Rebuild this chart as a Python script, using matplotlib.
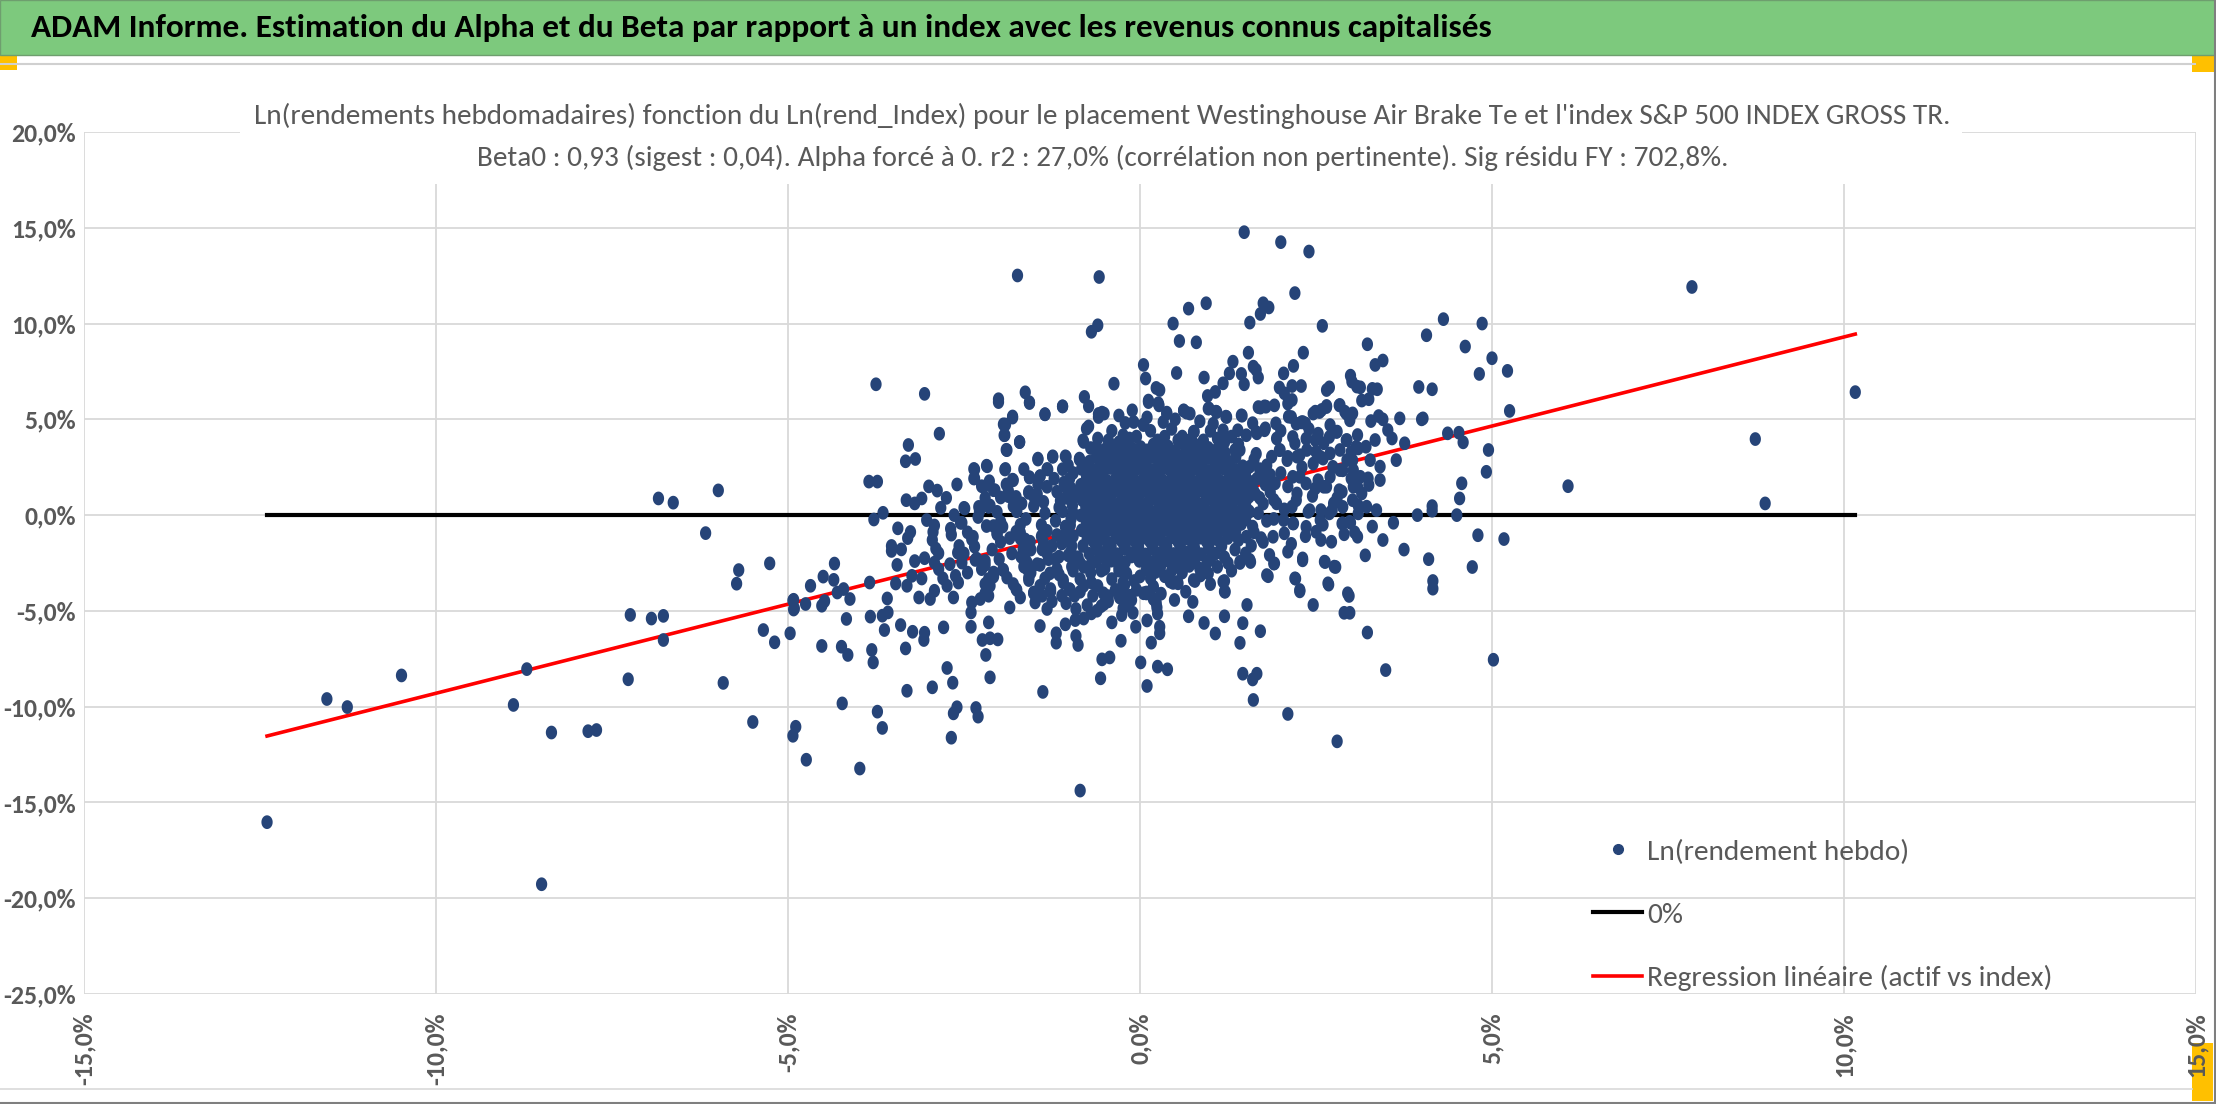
import numpy as np
import matplotlib
matplotlib.use('Agg')
import matplotlib.pyplot as plt
from matplotlib import font_manager
from matplotlib.lines import Line2D
from matplotlib.patches import Rectangle
from matplotlib.path import Path

# Ln weekly returns (%) of the asset vs Ln weekly returns (%) of the index
pts_left = [(-12.40, -16.03), (-11.55, -9.60), (-11.26, -10.02), (-10.49, -8.37), (-8.90, -9.91),
            (-8.71, -8.04), (-8.36, -11.35), (-8.50, -19.27), (-7.84, -11.28), (-7.72, -11.22),
            (-7.27, -8.57), (-7.24, -5.21), (-6.94, -5.40), (-6.77, -5.26), (-6.77, -6.52),
            (-6.84, 0.87), (-6.63, 0.65), (-6.17, -0.94), (-5.99, 1.29), (-5.92, -8.76),
            (-5.73, -3.58), (-5.70, -2.87), (-5.26, -2.52), (-5.50, -10.80), (-5.35, -6.00),
            (-5.19, -6.64), (-4.97, -6.17), (-4.93, -4.46), (-4.92, -4.93), (-4.89, -11.05),
            (-4.93, -11.52)]

pts_mid_upper = [(-1.74, 12.51), (-0.58, 12.43), (-0.60, 9.91), (-0.69, 9.57), (-3.75, 6.83),
                 (-3.06, 6.33), (-2.01, 6.05), (-1.63, 6.41), (-1.57, 5.89), (-1.10, 5.67),
                 (-0.79, 6.17), (-1.35, 5.27), (-0.37, 6.86), (-0.54, 5.35), (-0.59, 5.28),
                 (-2.85, 4.25), (-1.81, 5.15), (-1.91, 4.73), (-1.92, 4.18), (-1.90, 3.41),
                 (-1.71, 3.81), (-3.29, 3.66), (-3.33, 2.81), (-3.19, 2.93), (-3.85, 1.75),
                 (-3.73, 1.75), (-2.36, 2.41), (-2.35, 1.92), (-2.18, 2.58), (-1.91, 2.41),
                 (-1.81, 1.85), (-1.45, 2.95), (-1.24, 3.07), (-1.06, 3.07), (-0.86, 2.95),
                 (-0.81, 3.90), (-0.73, 4.63), (-1.57, 1.98), (-1.32, 2.41), (-1.42, 2.03),
                 (-2.88, 1.28), (-3.32, 0.78), (-3.20, 0.61), (-3.10, 0.87), (-2.83, 0.38),
                 (-2.50, 0.38), (-3.65, 0.12), (-3.78, -0.23), (-2.25, 1.51), (-2.14, 1.77),
                 (-2.06, 1.30), (-2.13, 0.50), (-2.28, 0.21), (-2.64, 0.00), (-2.55, -0.40),
                 (-1.58, 1.21), (-1.87, 0.99), (-1.77, 0.64)]

pts_mid_lower = [(-3.44, -0.69), (-3.26, -0.88), (-3.53, -1.61), (-3.53, -1.87), (-3.39, -1.79),
                 (-4.34, -2.53), (-4.50, -3.21), (-4.35, -3.38), (-4.68, -3.69), (-4.92, -4.42),
                 (-4.91, -4.87), (-4.75, -4.64), (-4.52, -4.73), (-4.48, -4.49), (-4.30, -4.04),
                 (-4.21, -3.86), (-4.12, -4.38), (-3.84, -3.52), (-4.17, -5.42), (-3.83, -5.30),
                 (-3.66, -5.25), (-3.58, -5.08), (-3.59, -4.35), (-3.47, -3.57), (-3.31, -3.69),
                 (-3.24, -3.17), (-3.10, -3.31), (-3.14, -4.30), (-3.06, -2.25), (-3.03, -0.26),
                 (-2.92, -0.54), (-2.94, -0.88), (-2.90, -1.75), (-2.86, -1.99), (-2.92, -2.48),
                 (-2.86, -2.82), (-2.69, -0.71), (-2.68, -1.02), (-2.57, -1.61), (-2.59, -1.96),
                 (-2.53, -2.48), (-2.70, -2.56), (-2.62, -3.17), (-2.58, -3.52), (-2.74, -3.69),
                 (-2.65, -4.30), (-2.92, -3.95), (-2.98, -4.38), (-2.39, -1.26), (-2.32, -2.27),
                 (-2.20, -2.39), (-2.25, -2.82), (-2.15, -3.34), (-2.08, -3.00), (-2.13, -3.69),
                 (-1.95, -2.86), (-1.89, -3.26), (-1.85, -4.82), (-1.76, -3.86), (-2.39, -4.56),
                 (-2.40, -5.08), (-2.27, -4.38), (-2.15, -4.21), (-2.20, -3.60), (-2.15, -5.60),
                 (-2.08, -0.57), (-2.03, -1.00), (-1.98, -1.40), (-1.70, -0.92), (-1.63, -1.27),
                 (-1.66, -1.79), (-1.63, -2.30), (-1.60, -2.82), (-1.58, -3.26), (-1.46, -2.56),
                 (-1.51, -4.04), (-1.49, -4.56), (-1.42, -3.69), (-1.39, -4.21), (-1.39, -1.79),
                 (-1.37, -1.44), (-1.27, -3.86), (-1.32, -4.90), (-1.18, -2.82), (-1.20, -2.30),
                 (-1.09, -3.52), (-1.11, -4.21), (-1.00, -3.86), (-0.93, -4.21), (-0.91, -4.90),
                 (-0.85, -3.34), (-0.80, -3.69), (-0.69, -3.52), (-0.67, -4.21), (-0.61, -4.99),
                 (-0.51, -4.64), (-0.40, -3.34), (-0.24, -3.52), (-0.24, -4.21), (-0.14, -4.21),
                 (0.09, -4.04), (0.24, -4.82), (0.19, -4.38)]

pts_low = [(-4.52, -6.83), (-4.24, -6.87), (-4.15, -7.30), (-3.81, -7.04), (-3.79, -7.69),
           (-3.63, -6.00), (-3.40, -5.74), (-3.23, -6.09), (-3.33, -6.96), (-3.07, -6.52),
           (-3.06, -6.14), (-2.79, -5.86), (-2.40, -5.83), (-2.24, -6.52), (-2.13, -6.43),
           (-2.02, -6.49), (-2.19, -7.30), (-2.13, -8.47), (-2.74, -7.98), (-2.66, -8.75),
           (-2.95, -8.99), (-3.31, -9.17), (-4.23, -9.83), (-3.73, -10.26), (-3.66, -11.11),
           (-2.65, -10.35), (-2.60, -10.03), (-2.33, -10.07), (-2.30, -10.52), (-2.68, -11.62),
           (-4.74, -12.77), (-3.98, -13.23), (-1.38, -9.23), (-0.85, -14.38), (-1.19, -6.17),
           (-1.19, -6.66), (-1.06, -5.70), (-0.92, -5.48), (-0.91, -6.31), (-0.88, -6.78),
           (-1.42, -5.79), (-0.56, -8.52), (-0.54, -7.53), (-0.43, -7.43), (-0.27, -6.56),
           (-0.06, -5.83), (0.01, -7.69), (0.10, -8.92), (0.16, -6.66), (0.25, -7.91),
           (0.39, -8.05), (0.28, -5.83), (0.28, -6.17), (-0.69, -5.13), (-0.55, -4.75),
           (-0.26, -5.22), (-0.24, -4.87), (0.09, -4.09), (-0.45, -4.23), (-0.29, -4.30),
           (-0.12, -4.43), (0.49, -4.43)]

pts_right_low = [(4.72, -2.71), (4.16, -3.44), (4.16, -3.84), (5.02, -7.55), (3.49, -8.09),
                 (2.80, -11.81), (2.10, -10.38), (3.23, -6.13), (2.97, -4.22), (2.90, -5.10),
                 (2.98, -5.10), (2.68, -3.63), (2.46, -4.69), (2.78, -2.71), (2.27, -3.98),
                 (2.21, -3.32), (1.82, -3.19), (1.71, -6.06), (1.52, -4.69), (1.46, -5.64),
                 (1.42, -6.67), (1.46, -8.28), (1.60, -8.58), (1.66, -8.28), (1.61, -9.65),
                 (1.20, -3.44), (1.21, -4.00), (1.20, -5.28), (1.07, -6.18), (0.91, -5.63),
                 (0.69, -5.28), (0.75, -4.53), (0.23, -4.58), (0.25, -5.14), (0.35, -3.19),
                 (0.47, -3.54), (0.53, -3.49), (0.78, -3.44), (0.86, -3.15), (0.22, -2.97),
                 (0.29, -2.71), (1.90, -2.53), (2.31, -2.36), (2.63, -2.45), (1.57, -2.45),
                 (1.42, -2.50), (-0.22, -3.66), (-0.08, -3.44)]

pts_upper_right = [(1.48, 14.77), (2.00, 14.25), (2.40, 13.76), (2.20, 11.59), (1.75, 11.06),
                   (1.83, 10.84), (1.71, 10.50), (1.56, 10.05), (0.69, 10.78), (0.94, 11.06),
                   (0.47, 10.00), (0.56, 9.09), (0.80, 9.02), (2.59, 9.88), (4.31, 10.23),
                   (4.86, 10.00), (4.07, 9.39), (4.62, 8.80), (5.00, 8.19), (5.22, 7.53),
                   (4.82, 7.37), (5.25, 5.44), (3.96, 6.69), (4.15, 6.57), (4.00, 5.00),
                   (4.02, 5.05), (4.37, 4.27), (4.53, 4.30), (4.59, 3.80), (4.95, 3.40),
                   (4.92, 2.26), (4.57, 1.66), (4.54, 0.87), (4.15, 0.47), (4.15, 0.23),
                   (3.94, 0.00), (4.50, 0.00), (3.69, 5.05), (3.76, 3.75), (3.64, 2.87),
                   (3.23, 8.92), (3.34, 7.84), (3.45, 8.07), (2.99, 7.28), (3.01, 6.97),
                   (3.08, 6.71), (3.13, 6.67), (3.30, 6.59), (3.37, 6.57), (3.15, 5.98),
                   (3.25, 6.05), (3.28, 4.91), (3.39, 5.17), (3.45, 5.00), (3.52, 4.44),
                   (3.58, 4.00), (3.34, 3.92), (3.41, 2.53), (3.41, 1.83), (3.36, 0.26),
                   (3.22, 0.44), (3.09, 4.18), (3.10, 3.48), (3.21, 3.57), (2.32, 8.48),
                   (2.18, 7.79), (2.04, 7.40), (1.98, 6.66), (2.05, 6.36), (2.16, 6.74),
                   (2.29, 6.74), (1.54, 8.48), (1.61, 7.75), (1.65, 7.58), (1.68, 7.18),
                   (1.44, 7.37), (1.48, 6.83), (1.32, 8.01), (1.27, 7.40), (1.18, 6.88),
                   (1.07, 6.43), (0.96, 6.22), (0.91, 7.18), (0.52, 7.42), (0.05, 7.84),
                   (0.08, 7.13), (0.23, 6.64), (0.28, 6.53), (0.12, 5.98), (0.26, 5.84),
                   (0.38, 5.35), (0.62, 5.45), (0.66, 5.35), (0.98, 5.57), (1.08, 5.40),
                   (1.22, 5.14), (1.45, 5.19), (1.71, 5.61), (1.79, 5.66), (2.16, 6.01),
                   (2.65, 6.53), (2.69, 6.67), (2.58, 5.49), (2.65, 5.70), (2.49, 5.40),
                   (2.84, 5.75), (2.91, 5.40), (3.02, 5.31), (2.80, 4.36), (2.94, 3.92),
                   (2.29, 4.84), (2.35, 4.79), (2.11, 5.14), (1.93, 4.79), (0.77, 4.36),
                   (0.76, 3.75), (0.05, 4.70)]

pts_mid_right = [(1.66, 4.27), (1.78, 4.53), (1.94, 4.00), (1.99, 3.40), (1.87, 3.05),
                 (2.09, 2.87), (2.20, 3.75), (2.23, 3.05), (2.37, 3.40), (2.49, 3.92),
                 (2.61, 3.75), (2.56, 3.05), (2.70, 3.22), (2.84, 3.40), (2.94, 2.87),
                 (2.84, 2.35), (3.03, 2.35), (3.13, 2.00), (3.25, 1.57), (3.15, 1.13),
                 (3.03, 1.48), (2.87, 1.22), (2.75, 0.61), (2.61, 1.48), (2.49, 1.39),
                 (2.39, 0.17), (2.56, -0.26), (2.18, -0.44), (2.23, 1.13), (2.27, 2.00),
                 (2.16, 0.44), (2.04, -0.26), (1.94, 0.61), (1.92, 1.66), (1.75, 2.00),
                 (1.61, 1.31), (1.56, 2.53), (1.42, 3.40), (1.47, 2.00), (2.87, -0.44),
                 (2.99, -0.40), (3.10, 0.09), (2.73, 0.26), (3.24, 1.92), (3.27, 2.87),
                 (3.05, -0.90), (3.20, -2.10), (3.45, -1.30), (3.75, -1.80), (4.10, -2.30),
                 (4.80, -1.05), (5.17, -1.25), (3.30, -0.60), (3.60, -0.40)]

pts_core_edges = [(-2.01, 5.90), (-1.57, 5.85), (-1.94, 4.74), (-1.81, 5.09), (-1.93, 4.17),
                  (-1.89, 3.39), (-1.71, 3.82), (-1.35, 5.26), (-1.10, 5.68), (-1.45, 2.90),
                  (-1.24, 3.04), (-1.05, 3.04), (-0.86, 2.90), (-2.35, 2.38), (-2.36, 1.91),
                  (-2.17, 2.55), (-1.92, 2.38), (-1.80, 1.82), (-1.57, 1.96), (-1.42, 2.03),
                  (-1.31, 2.38), (-2.22, 1.48), (-2.08, 1.30), (-1.87, 1.27), (-1.98, 0.92),
                  (-1.76, 0.95), (-1.58, 1.16), (-1.46, 1.09), (-1.32, 1.48), (-1.18, 1.22),
                  (-1.05, 1.44), (-2.49, 0.35), (-2.29, 0.43), (-2.15, 0.43), (-2.03, 0.17),
                  (-1.80, 0.47), (-1.68, 0.61), (-1.51, 0.47), (-1.37, 0.69), (-1.13, 0.75),
                  (-0.97, 0.78), (-2.53, -0.40), (-2.37, -1.13), (-2.35, -1.65), (-2.18, -0.57),
                  (-2.03, -0.95), (-1.98, -0.35), (-1.76, -0.87), (-1.70, -1.22), (-1.56, -1.39),
                  (-1.40, -0.52), (-1.32, -0.82), (-1.18, -1.04), (-0.99, -0.52), (-1.11, -1.48),
                  (-2.34, -2.34), (-2.20, -2.60), (-2.08, -3.21), (-1.94, -2.86), (-1.82, -2.00),
                  (-1.69, -2.17), (-1.65, -2.69), (-1.58, -3.39), (-1.42, -2.60), (-1.28, -3.04),
                  (-1.15, -2.17), (-1.09, -3.39), (-0.97, -2.69), (-1.32, -2.00), (-2.20, -4.08),
                  (-1.75, -3.91), (-1.51, -4.08), (-1.27, -3.99), (-0.99, -3.91),
                  (-0.76, 4.51), (-0.59, 5.12), (-0.51, 5.30), (-0.73, 5.68), (-0.80, 3.82),
                  (-0.62, 3.56), (-0.52, 3.04), (-0.37, 3.39), (-0.24, 4.17), (-0.21, 4.81),
                  (-0.11, 5.47), (-0.09, 4.86), (0.05, 4.74), (0.12, 5.90), (0.27, 5.73),
                  (0.38, 5.30), (0.33, 4.86), (0.62, 5.47), (0.71, 5.30), (0.76, 4.34),
                  (0.54, 3.91), (0.97, 5.56), (1.09, 5.38), (1.23, 5.12), (1.44, 5.21),
                  (1.04, 4.77), (1.18, 4.43), (1.39, 4.43), (1.51, 4.17), (1.68, 5.64),
                  (1.77, 5.68), (1.65, 4.34), (1.77, 4.43),
                  (1.91, 5.73), (2.10, 5.82), (2.15, 5.12), (2.22, 4.77), (2.31, 4.86),
                  (2.46, 5.30), (2.55, 5.38), (2.65, 5.64), (2.83, 5.73), (2.93, 5.30),
                  (2.98, 4.95), (2.17, 4.08), (2.36, 3.99), (2.53, 4.25), (2.69, 4.08),
                  (2.79, 4.34), (2.93, 3.91), (3.07, 3.56), (1.98, 3.39), (2.10, 3.04),
                  (2.27, 3.13), (2.46, 2.69), (2.60, 2.95), (2.74, 2.52), (2.88, 2.34),
                  (3.02, 2.86), (2.17, 2.00), (2.36, 1.65), (2.53, 1.82), (2.65, 1.48),
                  (2.83, 1.30), (3.00, 1.91), (3.09, 1.48), (2.22, 0.78), (2.41, 0.26),
                  (2.57, 0.26), (2.69, 0.09), (2.88, 0.43), (3.02, 0.78), (2.17, -0.43),
                  (2.36, -0.61), (2.50, -0.87), (2.57, -1.30), (2.72, -1.39), (2.88, -0.43),
                  (2.98, -0.35), (3.09, -1.13), (2.05, -0.95), (1.89, -1.13), (2.31, -2.26),
                  (2.62, -2.43), (2.76, -2.69), (2.95, -4.08), (2.20, -3.30), (2.27, -3.91),
                  (2.67, -3.56), (2.10, -1.91), (1.84, -2.08), (1.91, -2.52), (1.80, -3.13),
                  (1.56, -2.34), (1.42, -2.43), (1.51, -1.13),
                  (-0.52, -4.08), (-0.24, -3.65), (0.05, -4.08), (0.19, -3.73), (0.43, -3.47),
                  (0.54, -3.56), (0.76, -3.39), (0.97, -3.04), (1.18, -3.47), (1.20, -3.99),
                  (0.09, -2.86), (0.28, -2.69), (-0.19, -3.04)]

pts_core = [(-0.40, 3.62), (-0.21, 3.71), (0.01, 3.55), (0.19, 3.68), (0.40, 3.58), (0.61, 3.72),
            (0.79, 3.60), (0.97, 3.51),
            (-0.57, 3.18), (-0.37, 3.27), (-0.16, 3.12), (0.04, 3.24), (0.23, 3.15), (0.44, 3.28),
            (0.63, 3.10), (0.83, 3.22), (1.03, 3.14), (1.21, 3.25),
            (-0.72, 2.79), (-0.51, 2.86), (-0.31, 2.74), (-0.12, 2.83), (0.09, 2.77), (0.29, 2.88),
            (0.49, 2.72), (0.68, 2.85), (0.89, 2.78), (1.07, 2.90), (1.27, 2.76),
            (-0.83, 2.41), (-0.63, 2.35), (-0.42, 2.46), (-0.22, 2.38), (-0.03, 2.44), (0.18, 2.33),
            (0.38, 2.45), (0.57, 2.37), (0.78, 2.42), (0.97, 2.31), (1.18, 2.44), (1.37, 2.36),
            (-0.76, 1.98), (-0.56, 2.05), (-0.34, 1.94), (-0.14, 2.02), (0.06, 1.96), (0.26, 2.07),
            (0.45, 1.93), (0.66, 2.01), (0.86, 1.95), (1.05, 2.04), (1.26, 1.97), (1.45, 1.90),
            (-0.84, 1.58), (-0.63, 1.64), (-0.43, 1.55), (-0.23, 1.62), (-0.02, 1.57), (0.17, 1.66),
            (0.38, 1.54), (0.58, 1.63), (0.77, 1.56), (0.98, 1.65), (1.17, 1.55), (1.38, 1.61),
            (-0.75, 1.21), (-0.55, 1.16), (-0.36, 1.24), (-0.15, 1.18), (0.05, 1.25), (0.25, 1.15),
            (0.46, 1.22), (0.65, 1.17), (0.85, 1.26), (1.06, 1.19), (1.25, 1.23), (1.44, 1.14),
            (-0.82, 0.78), (-0.62, 0.84), (-0.42, 0.76), (-0.22, 0.83), (-0.03, 0.79), (0.18, 0.86),
            (0.37, 0.75), (0.58, 0.82), (0.78, 0.77), (0.97, 0.85), (1.18, 0.78), (1.37, 0.83),
            (-0.77, 0.41), (-0.55, 0.36), (-0.35, 0.44), (-0.14, 0.38), (0.05, 0.42), (0.26, 0.35),
            (0.46, 0.43), (0.66, 0.37), (0.85, 0.45), (1.06, 0.39), (1.25, 0.41), (1.46, 0.34),
            (-0.84, -0.02), (-0.63, 0.04), (-0.43, -0.04), (-0.23, 0.02), (-0.03, -0.03), (0.17, 0.05),
            (0.38, -0.02), (0.57, 0.03), (0.78, -0.05), (0.98, 0.02), (1.17, -0.03), (1.38, 0.04),
            (-0.76, -0.38), (-0.56, -0.44), (-0.35, -0.36), (-0.15, -0.42), (0.06, -0.37), (0.25, -0.45),
            (0.46, -0.38), (0.66, -0.43), (0.86, -0.36), (1.05, -0.41), (1.26, -0.39), (1.44, -0.46),
            (-0.83, -0.79), (-0.62, -0.84), (-0.42, -0.76), (-0.23, -0.82), (-0.02, -0.78), (0.18, -0.85),
            (0.37, -0.77), (0.58, -0.83), (0.77, -0.79), (0.98, -0.86), (1.17, -0.78), (1.36, -0.82),
            (-0.75, -1.19), (-0.55, -1.24), (-0.34, -1.17), (-0.14, -1.22), (0.05, -1.18), (0.26, -1.25),
            (0.45, -1.16), (0.66, -1.23), (0.85, -1.18), (1.05, -1.24), (1.25, -1.19),
            (-0.81, -1.61), (-0.61, -1.56), (-0.41, -1.63), (-0.21, -1.58), (-0.02, -1.64), (0.18, -1.57),
            (0.38, -1.62), (0.57, -1.59), (0.77, -1.65), (0.97, -1.56), (1.16, -1.61),
            (-0.72, -2.02), (-0.52, -1.97), (-0.32, -2.04), (-0.12, -1.99), (0.08, -2.05), (0.28, -1.98),
            (0.48, -2.03), (0.67, -1.96), (0.87, -2.04), (1.07, -2.01),
            (-0.62, -2.43), (-0.41, -2.38), (-0.21, -2.45), (-0.01, -2.39), (0.19, -2.44), (0.39, -2.37),
            (0.58, -2.42), (0.78, -2.46)]

# second layer of the solid central blob, sitting between the first one
pts_core2 = [(-0.50, 3.42), (-0.30, 3.36), (-0.10, 3.45), (0.10, 3.38), (0.30, 3.44), (0.50, 3.35),
             (0.70, 3.41), (0.90, 3.37), (1.10, 3.46),
             (-0.62, 3.02), (-0.42, 2.97), (-0.22, 3.05), (-0.02, 2.99), (0.18, 3.03), (0.38, 2.96),
             (0.58, 3.04), (0.78, 2.98), (0.98, 3.02), (1.18, 2.95), (1.36, 3.03),
             (-0.74, 2.62), (-0.54, 2.57), (-0.34, 2.64), (-0.14, 2.58), (0.06, 2.63), (0.26, 2.56),
             (0.46, 2.61), (0.66, 2.58), (0.86, 2.64), (1.06, 2.57), (1.26, 2.62), (1.46, 2.55),
             (-0.72, 2.18), (-0.52, 2.23), (-0.32, 2.16), (-0.12, 2.22), (0.08, 2.17), (0.28, 2.24),
             (0.48, 2.18), (0.68, 2.21), (0.88, 2.15), (1.08, 2.23), (1.28, 2.18), (1.50, 2.22),
             (-0.66, 1.82), (-0.46, 1.77), (-0.26, 1.84), (-0.06, 1.78), (0.14, 1.83), (0.34, 1.76),
             (0.54, 1.81), (0.74, 1.78), (0.94, 1.84), (1.14, 1.77), (1.34, 1.82), (1.55, 1.76),
             (-0.74, 1.38), (-0.54, 1.43), (-0.34, 1.36), (-0.14, 1.42), (0.06, 1.37), (0.26, 1.44),
             (0.46, 1.38), (0.66, 1.41), (0.86, 1.35), (1.06, 1.43), (1.26, 1.38), (1.50, 1.42),
             (-0.66, 1.02), (-0.46, 0.97), (-0.26, 1.04), (-0.06, 0.98), (0.14, 1.03), (0.34, 0.96),
             (0.54, 1.01), (0.74, 0.98), (0.94, 1.04), (1.14, 0.97), (1.34, 1.02), (1.55, 0.96),
             (-0.72, 0.58), (-0.52, 0.63), (-0.32, 0.56), (-0.12, 0.62), (0.08, 0.57), (0.28, 0.64),
             (0.48, 0.58), (0.68, 0.61), (0.88, 0.55), (1.08, 0.63), (1.28, 0.58), (1.50, 0.62),
             (-0.66, 0.22), (-0.46, 0.17), (-0.26, 0.24), (-0.06, 0.18), (0.14, 0.23), (0.34, 0.16),
             (0.54, 0.21), (0.74, 0.18), (0.94, 0.24), (1.14, 0.17), (1.34, 0.22), (1.55, 0.16),
             (-0.74, -0.18), (-0.54, -0.23), (-0.34, -0.16), (-0.14, -0.22), (0.06, -0.17),
             (0.26, -0.24), (0.46, -0.18), (0.66, -0.21), (0.86, -0.15), (1.06, -0.23),
             (1.26, -0.18), (1.50, -0.22),
             (-0.66, -0.58), (-0.46, -0.63), (-0.26, -0.56), (-0.06, -0.62), (0.14, -0.57),
             (0.34, -0.64), (0.54, -0.58), (0.74, -0.61), (0.94, -0.55), (1.14, -0.63), (1.34, -0.58),
             (-0.72, -0.98), (-0.52, -1.03), (-0.32, -0.96), (-0.12, -1.02), (0.08, -0.97),
             (0.28, -1.04), (0.48, -0.98), (0.68, -1.01), (0.88, -0.95), (1.08, -1.03), (1.28, -0.98),
             (-0.66, -1.38), (-0.46, -1.43), (-0.26, -1.36), (-0.06, -1.42), (0.14, -1.37),
             (0.34, -1.44), (0.54, -1.38), (0.74, -1.41), (0.94, -1.35), (1.14, -1.43),
             (-0.62, -1.78), (-0.42, -1.83), (-0.22, -1.76), (-0.02, -1.82), (0.18, -1.77),
             (0.38, -1.84), (0.58, -1.78), (0.78, -1.81), (0.98, -1.75),
             (-0.52, -2.18), (-0.32, -2.23), (-0.12, -2.16), (0.08, -2.22), (0.28, -2.17),
             (0.48, -2.24), (0.68, -2.18)]

# ragged rim around the blob
pts_rim = [(-1.02, 2.60), (-0.95, 2.20), (-1.08, 1.70), (-0.98, 1.40), (-1.05, 0.90),
           (-0.96, 0.50), (-1.10, 0.20), (-0.98, -0.20), (-1.06, -0.60), (-0.95, -1.10),
           (-1.08, -1.30), (-0.97, -1.60), (-1.02, -2.10), (-0.88, -2.20),
           (1.62, 2.90), (1.70, 2.40), (1.66, 1.90), (1.78, 1.60), (1.64, 1.10), (1.75, 0.60),
           (1.68, 0.10), (1.80, -0.30), (1.62, -0.90), (1.72, -1.20), (1.58, -1.60),
           (1.50, -2.00), (1.85, 2.10), (1.90, 0.80),
           (-0.45, 3.90), (-0.15, 4.00), (0.35, 4.10), (0.70, 3.90), (1.10, 4.00), (1.40, 3.70),
           (-0.70, 3.50), (1.35, 3.40),
           (-0.70, -2.60), (-0.30, -2.70), (0.10, -2.60), (0.50, -2.70), (0.70, -2.65),
           (1.00, -2.30), (1.25, -2.50), (-0.85, -2.50)]

# extra points in the crowded zones around the core
pts_fill = [(-2.45, -0.90), (-2.30, -0.10), (-2.20, 0.90), (-2.10, -1.80), (-1.95, -0.60),
            (-1.90, 1.60), (-1.85, -1.20), (-1.75, 0.20), (-1.65, 2.40), (-1.62, -0.20),
            (-1.55, -1.80), (-1.50, 0.90), (-1.45, 1.60), (-1.40, -1.10), (-1.35, 0.10),
            (-1.25, -1.60), (-1.22, 1.90), (-1.20, -0.30), (-1.15, 0.40), (-1.10, 2.40),
            (-1.05, -0.90), (-1.00, 1.90), (-0.98, -1.90), (-0.95, 0.10), (-0.92, -2.40),
            (-0.90, 1.20), (-1.30, -2.30), (-1.60, -2.50), (-2.00, -2.30), (-1.70, -0.50),
            (-1.80, -3.60), (-1.70, -4.30), (-1.55, -3.00), (-1.35, -3.30), (-1.25, -4.50),
            (-1.15, -3.10), (-1.05, -4.60), (-0.95, -2.90), (-0.85, -4.00), (-0.75, -4.70),
            (-0.70, -3.00), (-0.60, -3.70), (-0.55, -2.90), (-0.45, -4.50), (-0.35, -3.90),
            (-0.30, -2.90), (-0.20, -4.70), (-0.05, -3.90), (0.00, -3.20), (0.15, -3.30),
            (0.30, -4.10), (0.45, -2.90), (0.60, -3.00), (0.65, -4.00), (0.85, -2.80),
            (1.00, -3.60), (1.10, -2.70), (1.30, -2.90), (-0.80, -5.40), (-0.40, -5.60),
            (-0.10, -5.10), (0.10, -5.50),
            (1.55, 0.20), (1.60, -0.60), (1.65, 3.20), (1.70, 0.90), (1.75, -1.40),
            (1.80, 2.60), (1.85, 1.20), (1.90, -0.20), (2.00, 2.20), (2.05, 0.30),
            (2.10, 1.50), (2.15, -1.50), (2.30, 2.50), (2.35, -1.10), (2.45, 1.00),
            (2.50, 3.30), (2.60, -0.50), (2.70, 2.00), (2.80, 0.90), (2.90, -1.00),
            (3.00, 3.30), (3.10, 0.50), (1.60, 4.80), (2.00, 4.40), (2.40, 4.50),
            (2.70, 4.70),
            (-0.60, 4.00), (-0.40, 4.40), (-0.30, 3.80), (-0.05, 4.10), (0.15, 4.40),
            (0.25, 3.90), (0.45, 4.50), (0.60, 4.10), (0.90, 3.90), (1.00, 4.40),
            (1.20, 3.80), (1.30, 4.10), (0.10, 5.10), (0.50, 5.00), (0.85, 4.90),
            (-0.30, 5.20), (-0.80, -2.70), (-0.50, -2.80), (0.95, -2.50), (1.20, -2.20),
            (1.35, -1.80), (1.40, -1.30),
            (-3.45, -2.60), (-3.30, -1.20), (-3.20, -2.40), (-3.00, 1.50), (-2.95, -1.30),
            (-2.80, -3.30), (-2.75, 0.90), (-2.60, 1.60), (-2.50, -2.00), (-2.45, -3.00)]

pts_far_right = [(7.84, 11.91), (10.16, 6.42), (8.74, 3.97), (8.88, 0.61), (6.08, 1.51)]

beta0 = 0.93
x_ticks = [-15, -10, -5, 0, 5, 10, 15]
y_ticks = [-25, -20, -15, -10, -5, 0, 5, 10, 15, 20]

banner_title = ("ADAM Informe. Estimation du Alpha et du Beta par rapport à un index "
                "avec les revenus connus capitalisés")
title_line1 = ("Ln(rendements hebdomadaires) fonction du Ln(rend_Index) pour le placement "
               "Westinghouse Air Brake Te et l'index S&P 500 INDEX GROSS TR.")
title_line2 = ("Beta0 : 0,93 (sigest : 0,04). Alpha forcé à 0. r2 : 27,0% (corrélation non "
               "pertinente). Sig résidu FY : 702,8%.")
legend_labels = ["Ln(rendement hebdo)", "0%", "Regression linéaire (actif vs index)"]

all_pts = np.array(pts_left + pts_mid_upper + pts_mid_lower + pts_low + pts_right_low
                   + pts_upper_right + pts_mid_right + pts_core_edges + pts_core + pts_core2
                   + pts_rim + pts_fill + pts_far_right)
xs, ys = all_pts[:, 0], all_pts[:, 1]

# fonts: try something close to Calibri
installed = {f.name for f in font_manager.fontManager.ttflist}
fam = 'DejaVu Sans'
for cand in ['Carlito', 'Liberation Sans Narrow', 'Open Sans']:
    if cand in installed:
        fam = cand
        break
plt.rcParams['font.family'] = [fam, 'DejaVu Sans']

W, H = 2216, 1104
fig = plt.figure(figsize=(W / 100, H / 100), dpi=100)
renderer = fig.canvas.get_renderer()


def fx(x):
    return x / W


def fy(y):
    return 1 - y / H


def fit_size(s, target_px, **kw):
    t = fig.text(0, 0, s, fontsize=20, **kw)
    w = t.get_window_extent(renderer).width
    t.remove()
    return 20 * target_px / w


GRAY = '#595959'
DOT = '#264478'

# slightly tall oval marker, like the Excel dots
ang = np.linspace(0, 2 * np.pi, 41)
oval = Path(np.column_stack([0.82 * np.cos(ang), np.sin(ang)]), closed=True)

# banner
fig.patches.append(Rectangle((0, fy(55)), 1, 55 / H, transform=fig.transFigure,
                             facecolor='#7DC97D', edgecolor='#6E9E6E', lw=1, zorder=1))
bs = fit_size(banner_title, 1464, fontweight='bold')
fig.text(fx(31), fy(28), banner_title, fontsize=bs, fontweight='bold', color='black',
         ha='left', va='center')

# chart frame bits
fig.add_artist(Line2D([0, fx(2195)], [fy(64), fy(64)], color='#D0D0D0', lw=1.5))
fig.add_artist(Line2D([0, fx(2192)], [fy(1089), fy(1089)], color='#D9D9D9', lw=1.2))
fig.add_artist(Line2D([fx(2215), fx(2215)], [0, 1], color='#7F7F7F', lw=1.5))
fig.add_artist(Line2D([0, 1], [fy(1103), fy(1103)], color='#7F7F7F', lw=1.5))
for (x0, y0, x1, y1) in [(0, 55, 17, 70), (2192, 55, 2214, 72), (2192, 1043, 2213, 1101)]:
    fig.patches.append(Rectangle((fx(x0), fy(y1)), (x1 - x0) / W, (y1 - y0) / H,
                                 transform=fig.transFigure, facecolor='#FFC000',
                                 edgecolor='none', zorder=-1))

ax = fig.add_axes([fx(84), fy(994), (2196 - 84) / W, (994 - 132) / H])
ax.set_xlim(-15, 15)
ax.set_ylim(-25, 20)
ax.patch.set_alpha(0)
for sp in ax.spines.values():
    sp.set_visible(False)
ax.grid(True, color='#D9D9D9', lw=1.3)
ax.set_axisbelow(True)

ax.plot([xs.min(), xs.max()], [0, 0], color='black', lw=3.0, zorder=2)
ax.plot([xs.min(), xs.max()], [beta0 * xs.min(), beta0 * xs.max()], color='#FF0000',
        lw=2.6, zorder=3)
ax.scatter(xs, ys, s=98, marker=oval, color=DOT, edgecolors='none', zorder=4)

ts = fit_size('15,0%', 65, fontweight='bold')
ax.set_xticks(x_ticks)
ax.set_xticklabels([f"{v:.1f}%".replace('.', ',') for v in x_ticks], rotation=90,
                   fontsize=ts, fontweight='bold', color=GRAY)
ax.set_yticks(y_ticks)
ax.set_yticklabels([f"{v:.1f}%".replace('.', ',') for v in y_ticks],
                   fontsize=ts, fontweight='bold', color=GRAY)
ax.tick_params(axis='both', length=0)
ax.tick_params(axis='x', pad=13)
ax.tick_params(axis='y', pad=6)

# title box hides the gridlines behind it
fig.patches.append(Rectangle((fx(240), fy(184)), (1962 - 240) / W, (184 - 92) / H,
                             transform=fig.transFigure, facecolor='white',
                             edgecolor='none', zorder=2))
tsz = fit_size(title_line1, 1698)
fig.text(fx(1102), fy(116), title_line1, fontsize=tsz, color=GRAY, ha='center', va='center',
         zorder=5)
fig.text(fx(1103), fy(158), title_line2, fontsize=tsz, color=GRAY, ha='center', va='center',
         zorder=5)

# legend
ls = fit_size(legend_labels[2], 405)
fs_px = ls * 100 / 72
t = fig.text(0, 0, legend_labels[0], fontsize=ls)
row_h = t.get_window_extent(renderer).height
t.remove()
handles = [Line2D([], [], ls='none', marker='o', markersize=7, color=DOT),
           Line2D([], [], color='black', lw=3.0),
           Line2D([], [], color='#FF0000', lw=2.6)]
ax.legend(handles, legend_labels, loc='center left',
          bbox_to_anchor=(fx(1593), fy(915)), bbox_transform=fig.transFigure,
          frameon=False, fontsize=ls, labelcolor=GRAY, borderpad=0, borderaxespad=0,
          handlelength=49 / fs_px, handletextpad=5 / fs_px,
          labelspacing=(62.5 - row_h) / fs_px)

fig.savefig('out.png', dpi=100, facecolor='white')
